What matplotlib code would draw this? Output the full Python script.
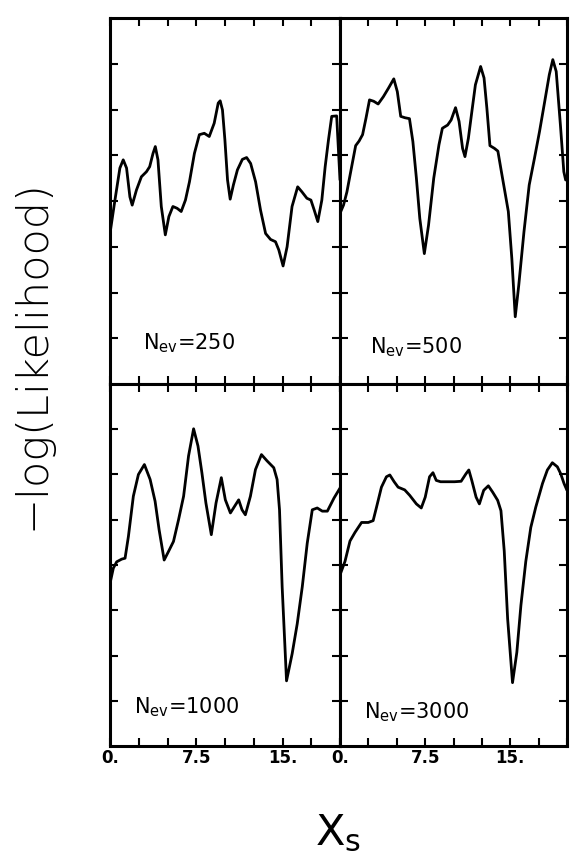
import matplotlib
matplotlib.use("Agg")
import matplotlib.pyplot as plt
import numpy as np

# ---- data (x = X_s, y = -log(Likelihood), arbitrary units) ----
x_250 = [0.00, 0.43, 0.86, 1.15, 1.44, 1.73, 1.93, 2.30, 2.73, 3.17, 3.45, 3.74, 3.94, 4.17,
         4.46, 4.81, 5.12, 5.47, 5.84, 6.19, 6.56, 6.91, 7.34, 7.77, 8.20, 8.63, 9.06, 9.41,
         9.58, 9.78, 9.99, 10.22, 10.45, 10.73, 11.08, 11.51, 11.88, 12.23, 12.66, 13.09,
         13.53, 13.96, 14.39, 14.68, 15.05, 15.40, 15.83, 16.32, 16.69, 17.12, 17.47, 17.76,
         18.07, 18.42, 18.71, 19.00, 19.28, 19.71, 20.00]
y_250 = [3.29, 4.02, 4.72, 4.90, 4.72, 4.09, 3.91, 4.24, 4.53, 4.64, 4.75, 5.04, 5.19, 4.90,
         3.88, 3.26, 3.66, 3.88, 3.84, 3.77, 4.02, 4.42, 5.04, 5.45, 5.48, 5.41, 5.70, 6.14,
         6.19, 5.99, 5.34, 4.46, 4.04, 4.35, 4.68, 4.91, 4.95, 4.82, 4.42, 3.80,
         3.29, 3.16, 3.11, 2.93, 2.58, 3.00, 3.88, 4.31, 4.20, 4.06, 4.02, 3.80,
         3.55, 4.02, 4.75, 5.34, 5.85, 5.86, 4.46]

x_500 = [0.00, 0.31, 0.61, 0.92, 1.38, 1.68, 1.99, 2.29, 2.60, 2.97, 3.36, 3.82, 4.28, 4.74,
         5.05, 5.35, 5.72, 6.12, 6.42, 6.73, 7.03, 7.43, 7.80, 8.26, 8.72, 9.02, 9.48, 9.79,
         10.18, 10.49, 10.80, 11.01, 11.31, 11.62, 11.93, 12.39, 12.69, 12.94, 13.21, 13.61,
         13.91, 14.22, 14.53, 14.83, 15.14, 15.44, 15.75, 16.21, 16.67, 17.13, 17.58, 18.04,
         18.44, 18.75, 19.05, 19.42, 19.72, 19.88, 20.00]
y_500 = [3.73, 3.91, 4.20, 4.61, 5.21, 5.31, 5.45, 5.81, 6.21, 6.18, 6.12, 6.28, 6.47, 6.67,
         6.39, 5.85, 5.82, 5.80, 5.30, 4.50, 3.62, 2.85, 3.47, 4.50, 5.23, 5.59, 5.66, 5.77,
         6.04, 5.74, 5.15, 4.97, 5.37, 5.96, 6.54, 6.94, 6.69, 6.03, 5.21, 5.15,
         5.09, 4.64, 4.20, 3.77, 2.74, 1.47, 2.16, 3.33, 4.35, 4.93, 5.52, 6.18,
         6.76, 7.09, 6.83, 5.66, 4.64, 4.46, 4.46]

x_1000 = [0.00, 0.29, 0.58, 1.02, 1.31, 1.60, 2.03, 2.47, 2.99, 3.49, 3.92, 4.27, 4.71, 5.09,
          5.52, 5.96, 6.40, 6.83, 7.27, 7.65, 7.99, 8.34, 8.81, 9.22, 9.68, 10.03, 10.47,
          10.84, 11.19, 11.48, 11.77, 12.21, 12.65, 13.17, 13.66, 14.24, 14.53, 14.74, 14.97,
          15.35, 15.84, 16.28, 16.72, 17.15, 17.59, 18.02, 18.46, 18.90, 19.48, 20.00]
y_1000 = [3.59, 3.93, 4.07, 4.13, 4.15, 4.63, 5.52, 6.00, 6.22, 5.89, 5.41, 4.78, 4.11, 4.30,
          4.52, 5.00, 5.52, 6.41, 7.01, 6.63, 6.04, 5.37, 4.67, 5.37, 5.93, 5.44, 5.15,
          5.30, 5.44, 5.22, 5.11, 5.52, 6.11, 6.44, 6.30, 6.15, 5.89, 5.22, 3.52,
          1.44, 2.04, 2.70, 3.52, 4.48, 5.22, 5.26, 5.19, 5.19, 5.48, 5.70]

x_3000 = [0.00, 0.44, 0.88, 1.32, 1.90, 2.49, 2.92, 3.22, 3.65, 4.09, 4.39, 4.77, 5.12, 5.70,
          6.14, 6.73, 7.16, 7.51, 7.89, 8.19, 8.48, 8.86, 9.50, 10.09, 10.67, 11.11, 11.35,
          11.61, 11.99, 12.28, 12.66, 13.07, 13.45, 13.89, 14.18, 14.47, 14.77, 15.20, 15.58,
          15.94, 16.37, 16.81, 17.25, 17.84, 18.27, 18.71, 19.15, 19.44, 19.74, 20.00]
y_3000 = [3.78, 4.08, 4.53, 4.72, 4.94, 4.94, 4.98, 5.28, 5.72, 5.95, 5.99, 5.84, 5.72, 5.66,
          5.54, 5.35, 5.26, 5.50, 5.95, 6.04, 5.87, 5.84, 5.84, 5.84, 5.85, 6.02, 6.10,
          5.87, 5.50, 5.35, 5.65, 5.75, 5.61, 5.43, 5.20, 4.31, 2.81, 1.40, 2.07,
          3.11, 4.08, 4.83, 5.28, 5.80, 6.10, 6.26, 6.17, 6.02, 5.80, 5.65]

labels = ["250", "500", "1000", "3000"]
x_ticks = [0, 2.5, 5, 7.5, 10, 12.5, 15, 17.5, 20]
x_ticklabels = ["0.", "", "", "7.5", "", "", "15.", "", ""]
y_ticks = [1, 2, 3, 4, 5, 6, 7]

# ---- figure ----
fig = plt.figure(figsize=(5.71, 8.55), dpi=100)
W, H = 571.0, 855.0
xl, xm, xr = 110, 340, 567
yt, ym, yb = 18, 384, 746

def panel(x0, x1, y0, y1):
    return fig.add_axes([x0 / W, 1 - y1 / H, (x1 - x0) / W, (y1 - y0) / H])

axes = [panel(xl, xm, yt, ym), panel(xm, xr, yt, ym),
        panel(xl, xm, ym, yb), panel(xm, xr, ym, yb)]
series = [(x_250, y_250), (x_500, y_500), (x_1000, y_1000), (x_3000, y_3000)]
label_pos = [(2.9, 0.9), (2.6, 0.8), (2.1, 0.85), (2.1, 0.75)]

for i, (ax, (xs, ys), lab, pos) in enumerate(zip(axes, series, labels, label_pos)):
    ax.plot(xs, ys, color="black", lw=2.0, solid_joinstyle="round", solid_capstyle="round")
    ax.set_xlim(0, 20)
    ax.set_ylim(0, 8)
    ax.set_xticks(x_ticks)
    ax.set_yticks(y_ticks)
    ax.set_yticklabels([])
    if i >= 2:
        ax.set_xticklabels(x_ticklabels, fontsize=12, fontweight="bold")
    else:
        ax.set_xticklabels([])
    ax.tick_params(direction="in", top=True, right=True, length=6, width=1.5, pad=2)
    for s in ax.spines.values():
        s.set_linewidth(2.2)
    ax.text(pos[0], pos[1], r"N$_{\rm ev}$=" + lab, fontsize=15, ha="left", va="center")

fig.text(0.056, 0.585, "\u2212log(Likelihood)", rotation=90, fontsize=31,
         fontweight="light", ha="center", va="center")
fig.text(0.592, 0.026, r"X$_{\rm s}$", fontsize=31, ha="center", va="center")

fig.savefig("out.png", dpi=100)
